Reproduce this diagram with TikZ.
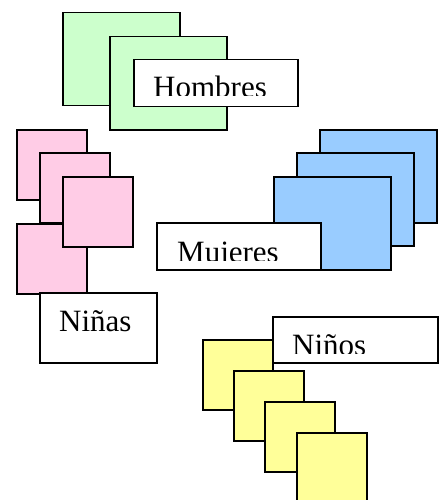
\documentclass[tikz,border=0pt]{standalone}
\usepackage{fontspec}
\setmainfont{Liberation Serif}
\definecolor{cardgreen}{RGB}{204,255,204}
\definecolor{cardpink}{RGB}{255,204,230}
\definecolor{cardblue}{RGB}{153,204,255}
\definecolor{cardyellow}{RGB}{255,255,153}
\begin{document}
\begin{tikzpicture}
[x=1pt,y=-1pt,
  carddecorate/.style={shape=rectangle,draw,line width=1.5pt,anchor=north west,inner sep=0pt},
  bigcard/.style={carddecorate,minimum width=117pt,minimum height=93pt},
  smallcard/.style={carddecorate,minimum width=70pt,minimum height=70pt},
  labelbox/.style={carddecorate,fill=white,minimum width=164pt,minimum height=47pt},
  labeltext/.style={anchor=base west,inner sep=0pt,font=\fontsize{31}{36}\selectfont}]
\clip (0,0) rectangle (441,500);
%% hombres
\foreach \nodename/\x/\y in {g1/62/12, g2/109/36} {
  \node (\nodename) at (\x,\y) [bigcard,fill=cardgreen] {};
}
\node (hombresbox) at (133,59) [labelbox] {};
%% ninas
\foreach \nodename/\x/\y in {p4/16/223, p1/16/129, p2/39/152, p3/62/176} {
  \node (\nodename) at (\x,\y) [smallcard,fill=cardpink] {};
}
\node (ninasbox) at (39,292) [labelbox,minimum width=117pt,minimum height=70pt] {};
%% mujeres
\foreach \nodename/\x/\y in {b1/319/129, b2/296/152, b3/273/176} {
  \node (\nodename) at (\x,\y) [bigcard,fill=cardblue] {};
}
\node (mujeresbox) at (156,222) [labelbox] {};
%% ninos
\foreach \nodename/\x/\y in {y1/202/339, y2/233/370, y3/264/401, y4/296/432} {
  \node (\nodename) at (\x,\y) [smallcard,fill=cardyellow] {};
}
\node (ninosbox) at (272,316) [labelbox,minimum width=165pt,minimum height=46pt] {};
%% texts
\node (ninas) at (59,331) [labeltext] {Niñas};
\begin{scope}
  \clip (hombresbox.north west) rectangle (hombresbox.east |- 0,96);
  \node (hombres) at (153,98) [labeltext] {Hombres};
\end{scope}
\begin{scope}
  \clip (mujeresbox.north west) rectangle (mujeresbox.east |- 0,260);
  \node (mujeres) at (177,262) [labeltext] {Mujeres};
\end{scope}
\begin{scope}
  \clip (ninosbox.north west) rectangle (ninosbox.east |- 0,353);
  \node (ninos) at (292,355) [labeltext] {Niños};
\end{scope}
\end{tikzpicture}
\end{document}
